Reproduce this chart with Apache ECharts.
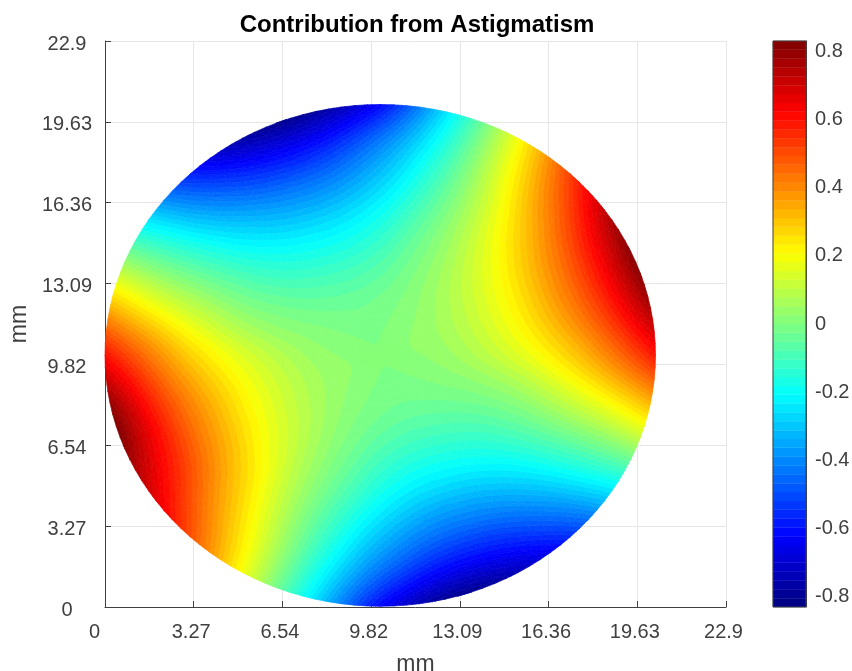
<!DOCTYPE html>
<html><head><meta charset="utf-8">
<style>html,body{margin:0;padding:0;background:#fff}#c{width:852px;height:671px}</style>
<script src="https://cdn.jsdelivr.net/npm/echarts@6/dist/echarts.min.js"></script>
</head><body><div id="c"></div>
<script>
// Tick labels
const axisTicks = ['0','3.27','6.54','9.82','13.09','16.36','19.63','22.9'];
const barTicks = [-0.8,-0.6,-0.4,-0.2,0,0.2,0.4,0.6,0.8];
// Surface values, on a polar net (every 15 degrees, anticlockwise from +x)
const centreX = 10.15, centreY = 10.18, radius = 10.15;
const ringFractions = [0, 0.25, 0.5, 0.7, 0.85, 1];
const centreValue = 0.008;
const ring25  = [0.044,0.057,0.056,0.042,0.020,-0.006,-0.028,-0.041,-0.040,-0.026,-0.004,0.022,0.044,0.057,0.056,0.042,0.020,-0.006,-0.028,-0.041,-0.040,-0.026,-0.004,0.022];
const ring50  = [0.152,0.200,0.194,0.142,0.052,-0.050,-0.148,-0.200,-0.194,-0.142,-0.052,0.050,0.152,0.200,0.194,0.142,0.052,-0.050,-0.148,-0.200,-0.194,-0.142,-0.052,0.050];
const ring70  = [0.29,0.39,0.38,0.27,0.09,-0.11,-0.29,-0.39,-0.38,-0.27,-0.09,0.11,0.29,0.39,0.38,0.27,0.09,-0.11,-0.29,-0.39,-0.38,-0.27,-0.09,0.11];
const ring85  = [0.43,0.57,0.56,0.40,0.14,-0.16,-0.42,-0.57,-0.56,-0.40,-0.13,0.16,0.44,0.58,0.55,0.38,0.14,-0.16,-0.43,-0.57,-0.55,-0.39,-0.13,0.16];
const ring100 = [0.59,0.79,0.78,0.55,0.19,-0.22,-0.62,-0.79,-0.77,-0.55,-0.18,0.22,0.60,0.82,0.72,0.52,0.19,-0.22,-0.62,-0.80,-0.74,-0.53,-0.18,0.22];
const vMin = -0.83, vMax = 0.83, levels = 64;

const xyMax = 22.9, step = xyMax / 7;
const rings = [ring25, ring50, ring70, ring85, ring100];

function cr(a,b,c,d,t){return 0.5*(2*b+(c-a)*t+(2*a-5*b+4*c-d)*t*t+(3*b-a-3*c+d)*t*t*t);}
function ringAt(k,deg){
  if(k===0) return centreValue;
  const R=rings[k-1],n=R.length,f=deg/15,i=Math.floor(f),t=f-i;
  return cr(R[(i-1+n)%n],R[i%n],R[(i+1)%n],R[(i+2)%n],t);
}
function surface(fr,deg){
  const q=ringFractions,vals=q.map((_,k)=>ringAt(k,deg));
  let i=0; while(i<q.length-2&&fr>q[i+1]) i++;
  const h=q[i+1]-q[i],t=(fr-q[i])/h;
  const tan=j=>j===0?(vals[1]-vals[0])/(q[1]-q[0]):j===q.length-1?(vals[j]-vals[j-1])/(q[j]-q[j-1]):(vals[j+1]-vals[j-1])/(q[j+1]-q[j-1]);
  const t2=t*t,t3=t2*t;
  return (2*t3-3*t2+1)*vals[i]+(t3-2*t2+t)*h*tan(i)+(-2*t3+3*t2)*vals[i+1]+(t3-t2)*h*tan(i+1);
}
function jet(i){
  const t=(i+0.5)/levels,c=x=>Math.round(255*Math.max(0,Math.min(1,x)));
  return 'rgb('+c(1.5-Math.abs(4*t-3))+','+c(1.5-Math.abs(4*t-2))+','+c(1.5-Math.abs(4*t-1))+')';
}
// Filled contour bands (as contourf does) from the read net
const stepV=(vMax-vMin)/levels, Nr=28, Nt=132;
function node(a,b){
  const fr=a/Nr,deg=(b%Nt)*360/Nt,th=deg*Math.PI/180;
  return [centreX+radius*fr*Math.cos(th),centreY+radius*fr*Math.sin(th),Math.max(vMin,Math.min(vMax,surface(fr,deg)))];
}
function clip(poly,lv,keepAbove){
  const out=[];
  for(let i=0;i<poly.length;i++){
    const p=poly[i],q=poly[(i+1)%poly.length];
    const pin=keepAbove?p[2]>=lv:p[2]<=lv,qin=keepAbove?q[2]>=lv:q[2]<=lv;
    if(pin) out.push(p);
    if(pin!==qin){const t=(lv-p[2])/(q[2]-p[2]);out.push([p[0]+t*(q[0]-p[0]),p[1]+t*(q[1]-p[1]),lv]);}
  }
  return out;
}
const bandPolys=[];
function addTri(a,b,c){
  const lo=Math.min(a[2],b[2],c[2]),hi=Math.max(a[2],b[2],c[2]);
  let i0=Math.max(0,Math.floor((lo-vMin)/stepV)),i1=Math.min(levels-1,Math.floor((hi-vMin)/stepV));
  for(let i=i0;i<=i1;i++){
    let p=clip([a,b,c],vMin+i*stepV,true);
    if(p.length>=3) p=clip(p,vMin+(i+1)*stepV,false);
    if(p.length>=3) bandPolys.push({level:i,pts:p});
  }
}
for(let a=0;a<Nr;a++)for(let b=0;b<Nt;b++){
  const p=node(a,b),q=node(a+1,b),r=node(a+1,b+1),s=node(a,b+1);
  addTri(p,q,r); if(a>0) addTri(p,r,s);
}
const surfaceData=bandPolys.map((p,i)=>[p.pts[0][0],p.pts[0][1],i]);
const barData=[];for(let i=0;i<levels;i++)barData.push([vMin+i*stepV,vMin+(i+1)*stepV,i]);

const ink='#404040', txt={color:ink,fontFamily:'"Liberation Sans"',fontSize:20};
const chart=echarts.init(document.getElementById('c'),null,{renderer:'canvas'});
const axisCommon={type:'value',min:0,max:xyMax,interval:step,
  axisLine:{show:true,onZero:false,lineStyle:{color:ink,width:1}},
  axisTick:{show:true,inside:true,length:6,lineStyle:{color:ink}},
  splitLine:{show:true,lineStyle:{color:'#e6e6e6',width:1}},
  nameLocation:'middle',name:'mm',nameTextStyle:{color:ink,fontFamily:'"Liberation Sans"',fontSize:23}};
chart.setOption({
  animation:false,
  title:{text:'Contribution from Astigmatism',left:412,top:8,textAlign:'center',
    textStyle:{color:'#000',fontFamily:'"Liberation Sans"',fontWeight:'bold',fontSize:24}},
  grid:[{left:105,top:41,width:621,height:566,outerBoundsMode:'none',containLabel:false},
        {left:773,top:41,width:33,height:566,outerBoundsMode:'none',containLabel:false}],
  xAxis:[
    Object.assign({},axisCommon,{gridIndex:0,nameGap:46,
      axisLabel:Object.assign({},txt,{margin:15,padding:[0,5,0,0],showMinLabel:true,showMaxLabel:true,hideOverlap:false,alignMinLabel:'right',
        formatter:v=>axisTicks[Math.round(v/step)]})}),
    {gridIndex:1,type:'value',min:0,max:1,show:false}
  ],
  yAxis:[
    Object.assign({},axisCommon,{gridIndex:0,nameGap:73,
      axisLabel:Object.assign({},txt,{margin:38,align:'center',showMinLabel:true,showMaxLabel:true,hideOverlap:false,
        rich:{a:Object.assign({},txt,{padding:[6,0,0,0]})},
        formatter:v=>'{a|'+axisTicks[Math.round(v/step)]+'}'})}),
    {gridIndex:1,type:'value',position:'right',min:vMin,max:vMax,
     axisLine:{show:true,onZero:false,lineStyle:{color:ink,width:1}},
     axisTick:{show:true,inside:true,length:5,customValues:barTicks,lineStyle:{color:ink}},
     splitLine:{show:false},
     axisLabel:Object.assign({},txt,{margin:9,customValues:barTicks,formatter:v=>v===0?'0':v.toFixed(1)})}
  ],
  series:[
    {type:'custom',xAxisIndex:0,yAxisIndex:0,clip:false,progressive:0,silent:true,z:3,data:surfaceData,encode:{x:0,y:1},
     renderItem:(params,api)=>{
       const p=bandPolys[api.value(2)],col=jet(p.level);
       return {type:'polygon',shape:{points:p.pts.map(q=>api.coord([q[0],q[1]]))},style:{fill:col,stroke:col,lineWidth:0.7}};
     }},
    {type:'custom',xAxisIndex:1,yAxisIndex:1,clip:false,silent:true,z:3,data:barData,encode:{y:[0,1]},
     renderItem:(params,api)=>{
       const a=api.coord([0,api.value(1)]),b=api.coord([1,api.value(0)]),col=jet(api.value(2));
       return {type:'rect',shape:{x:a[0],y:a[1],width:b[0]-a[0],height:b[1]-a[1]},style:{fill:col,stroke:col,lineWidth:0.4}};
     }},
    {type:'custom',xAxisIndex:1,yAxisIndex:1,clip:false,silent:true,z:4,data:[[vMin,vMax]],encode:{y:[0,1]},
     renderItem:(params,api)=>{
       const a=api.coord([0,api.value(1)]),b=api.coord([1,api.value(0)]);
       return {type:'rect',shape:{x:a[0],y:a[1],width:b[0]-a[0],height:b[1]-a[1]},style:{fill:'none',stroke:ink,lineWidth:1}};
     }}
  ]
});
</script></body></html>
